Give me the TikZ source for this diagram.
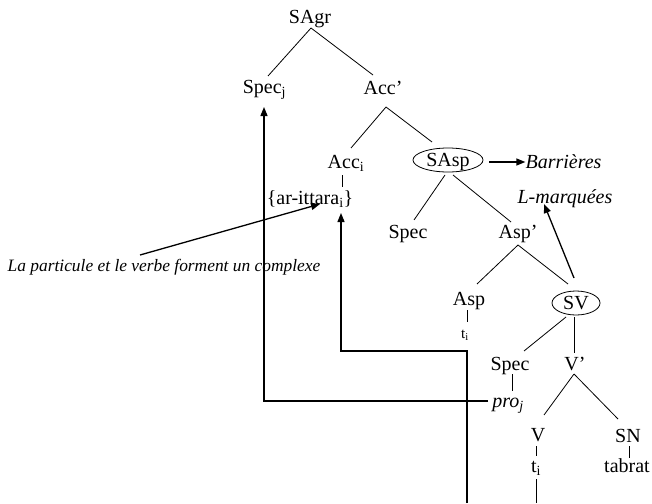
\documentclass[tikz,border=0pt]{standalone}
\usepackage{fontspec}
\setmainfont{Liberation Serif}
\usetikzlibrary{arrows.meta,shapes.geometric,calc}
\begin{document}
\begin{tikzpicture}[x=1pt,y=-1pt,
  lab/.style={inner sep=0pt, text height=13pt, text depth=0pt, font=\fontsize{20}{24}\selectfont},
  smalllab/.style={inner sep=0pt, text height=10pt, text depth=0pt, font=\fontsize{15}{18}\selectfont},
  notelab/.style={inner sep=0pt, text height=11.5pt, text depth=0pt, font=\fontsize{17.4}{21}\selectfont\itshape},
  ell/.style={lab, draw, ellipse, line width=0.8pt},
  tree/.style={line width=0.8pt},
  arr/.style={line width=1.3pt, -{Triangle[length=9pt,width=7pt]}}]
\useasboundingbox (0,0) rectangle (652,503);

% nodes
\node[lab] (sagr) at (310,17) {SAgr};
\node[lab] (specj) at (264.5,87) {Spec\textsubscript{j}};
\node[lab] (accp) at (383,88) {Acc’};
\node[lab] (acci) at (346,162) {Acc\textsubscript{i}};
\node[lab] (arit) at (310,198) {\{ar-ittara\textsubscript{i}\}};
\node[ell, minimum width=70pt, minimum height=24pt] (sasp) at (448,160) {SAsp};
\node[lab, font=\fontsize{20}{24}\selectfont\itshape] (barr) at (563.5,162) {Barrières};
\node[lab, font=\fontsize{20}{24}\selectfont\itshape] (lmarq) at (565,197) {L-marquées};
\node[lab] (spec1) at (408,232) {Spec};
\node[lab] (aspp) at (518,232) {Asp’};
\node[lab] (asp) at (469,299) {Asp};
\node[smalllab] (ti1) at (465,333) {t\textsubscript{i}};
\node[ell, minimum width=48pt, minimum height=24pt] (sv) at (576,303) {SV};
\node[lab] (spec2) at (510,364) {Spec};
\node[lab] (vp) at (575,364) {V’};
\node[lab] (pro) at (508,401) {\textit{pro\textsubscript{j}}};
\node[lab] (v) at (538,435) {V};
\node[lab] (sn) at (628,436) {SN};
\node[lab] (ti2) at (536,466) {t\textsubscript{i}};
\node[lab] (tabrat) at (627,466) {tabrat};
\node[notelab] (note) at (164,266) {La particule et le verbe forment un complexe};

\coordinate (bot1) at (536,503);
\coordinate (bot2) at (467,503);

% tree edges
\draw[tree] ($(sagr)+(1,11)$) -- ($(specj)+(3.5,-11)$);
\draw[tree] ($(sagr)+(1,11)$) -- ($(accp)+(-10,-13)$);
\draw[tree] ($(accp)+(3,19)$) -- ($(acci)+(5,-14)$);
\draw[tree] ($(accp)+(3,19)$) -- ($(sasp)+(-16,-18)$);
\draw[tree] ($(acci)+(-4,13)$) -- ($(arit)+(32,-11)$);
\draw[tree] ($(sasp)+(-3,15)$) -- ($(spec1)+(6,-12)$);
\draw[tree] ($(sasp)+(5,15)$) -- ($(aspp)+(-7,-10)$);
\draw[tree] ($(aspp)+(0,13)$) -- ($(asp)+(8,-15)$);
\draw[tree] ($(aspp)+(0,13)$) -- ($(sv)+(-8,-19)$);
\draw[tree] ($(asp)+(-2,11)$) -- ($(ti1)+(2,-11)$);
\draw[tree] ($(sv)+(-10,14)$) -- ($(spec2)+(14,-13)$);
\draw[tree] ($(sv)+(-2,14)$) -- ($(vp)+(-1,-11)$);
\draw[tree] ($(spec2)+(2,10)$) -- ($(pro)+(4,-10)$);
\draw[tree] ($(vp)+(-1,10)$) -- ($(v)+(6,-20)$);
\draw[tree] ($(vp)+(-1,10)$) -- ($(sn)+(-10,-17)$);
\draw[tree] ($(v)+(-2,11)$) -- ($(ti2)+(0,-10)$);
\draw[tree] ($(sn)+(1,10)$) -- ($(tabrat)+(2,-8)$);
\draw[tree] ($(ti2)+(0,13)$) -- (bot1);

% arrows
\draw[arr] ($(sasp)+(41,2)$) -- (barr.west);
\draw[arr] ($(sv)+(-2,-25)$) -- ($(lmarq)+(-21,7)$);
\draw[arr] ($(note)+(-24,-11)$) -- ($(arit)+(10,6)$);
\draw[arr] ($(pro)+(-20,0)$) -| ($(specj)+(-0.5,20)$);
\draw[arr] (bot2) |- ($(arit)+(31,153)$) -- ($(arit)+(31,15)$);
\end{tikzpicture}
\end{document}
